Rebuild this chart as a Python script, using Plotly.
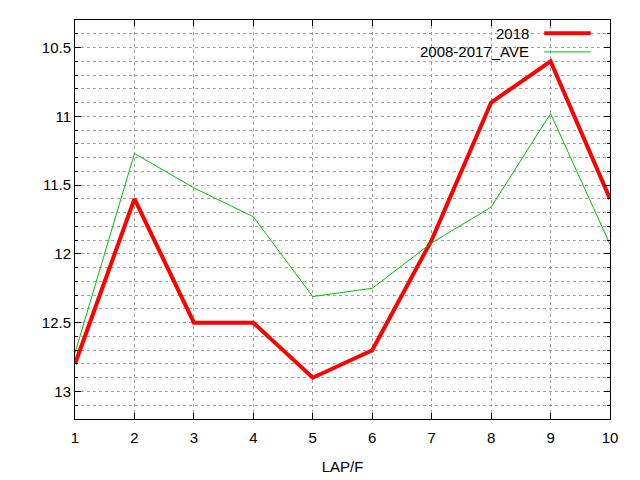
import plotly.graph_objects as go

laps = [1, 2, 3, 4, 5, 6, 7, 8, 9, 10]
times_2018 = [12.8, 11.6, 12.5, 12.5, 12.9, 12.7, 11.9, 10.9, 10.6, 11.6]
times_ave = [12.72, 11.27, 11.52, 11.73, 12.31, 12.25, 11.92, 11.66, 10.98, 11.93]
y_ticks = [10.5, 11, 11.5, 12, 12.5, 13]
y_labels = ["10.5", "11", "11.5", "12", "12.5", "13"]

RED = "#ff0000"
GREEN = "#00c000"
GRID = "#a0a0a0"
FONT = dict(family="Liberation Sans, Arial, sans-serif", size=15, color="#000000")

fig = go.Figure()

fig.add_trace(go.Scatter(x=laps, y=times_2018, mode="lines", name="2018",
                         line=dict(color=RED, width=4), showlegend=False))
fig.add_trace(go.Scatter(x=laps, y=times_ave, mode="lines", name="2008-2017_AVE",
                         line=dict(color=GREEN, width=1), showlegend=False))

# gnuplot style key: text right aligned, sample line on the right, white box behind
fig.add_shape(type="rect", xref="paper", yref="paper", x0=0.62, x1=0.976, y0=0.9, y1=0.998,
              fillcolor="white", line=dict(width=0), layer="between")
key_rows = [("2018", RED, 4, 0.967), ("2008-2017_AVE", GREEN, 1, 0.92)]
for label, color, width, ypos in key_rows:
    fig.add_annotation(x=0.852, y=ypos, xref="paper", yref="paper", text=label,
                       showarrow=False, xanchor="right", yanchor="middle", font=FONT)
    fig.add_shape(type="line", xref="paper", yref="paper", x0=0.877, x1=0.964,
                  y0=ypos, y1=ypos, line=dict(color=color, width=width))

fig.update_xaxes(
    range=[1, 10], tickmode="array", tickvals=laps, ticktext=[str(v) for v in laps],
    title=dict(text="LAP/F", font=FONT, standoff=16), tickfont=FONT, automargin=False,
    ticklabelstandoff=5,
    showline=True, linecolor="black", linewidth=1, mirror="ticks",
    ticks="inside", ticklen=6, tickcolor="black",
    showgrid=True, gridcolor=GRID, griddash="dot", gridwidth=1, zeroline=False,
)
fig.update_yaxes(
    range=[13.2, 10.3], tickmode="array", tickvals=y_ticks, ticktext=y_labels, tickfont=FONT,
    automargin=False,
    showline=True, linecolor="black", linewidth=1, mirror="ticks",
    ticks="inside", ticklen=6, tickcolor="black",
    showgrid=True, gridcolor=GRID, griddash="dot", gridwidth=1, zeroline=False,
    minor=dict(dtick=0.1, tick0=10.3, showgrid=True, gridcolor=GRID, griddash="dot",
               ticks="inside", ticklen=3, tickcolor="black"),
)

# page body has an 8px margin, so the margins are shifted to keep the plot box in place
fig.update_layout(
    width=640, height=480,
    margin=dict(l=67, r=38, t=12, b=69),
    plot_bgcolor="white", paper_bgcolor="white",
    font=FONT, showlegend=False,
)

fig.write_html("out.html")
